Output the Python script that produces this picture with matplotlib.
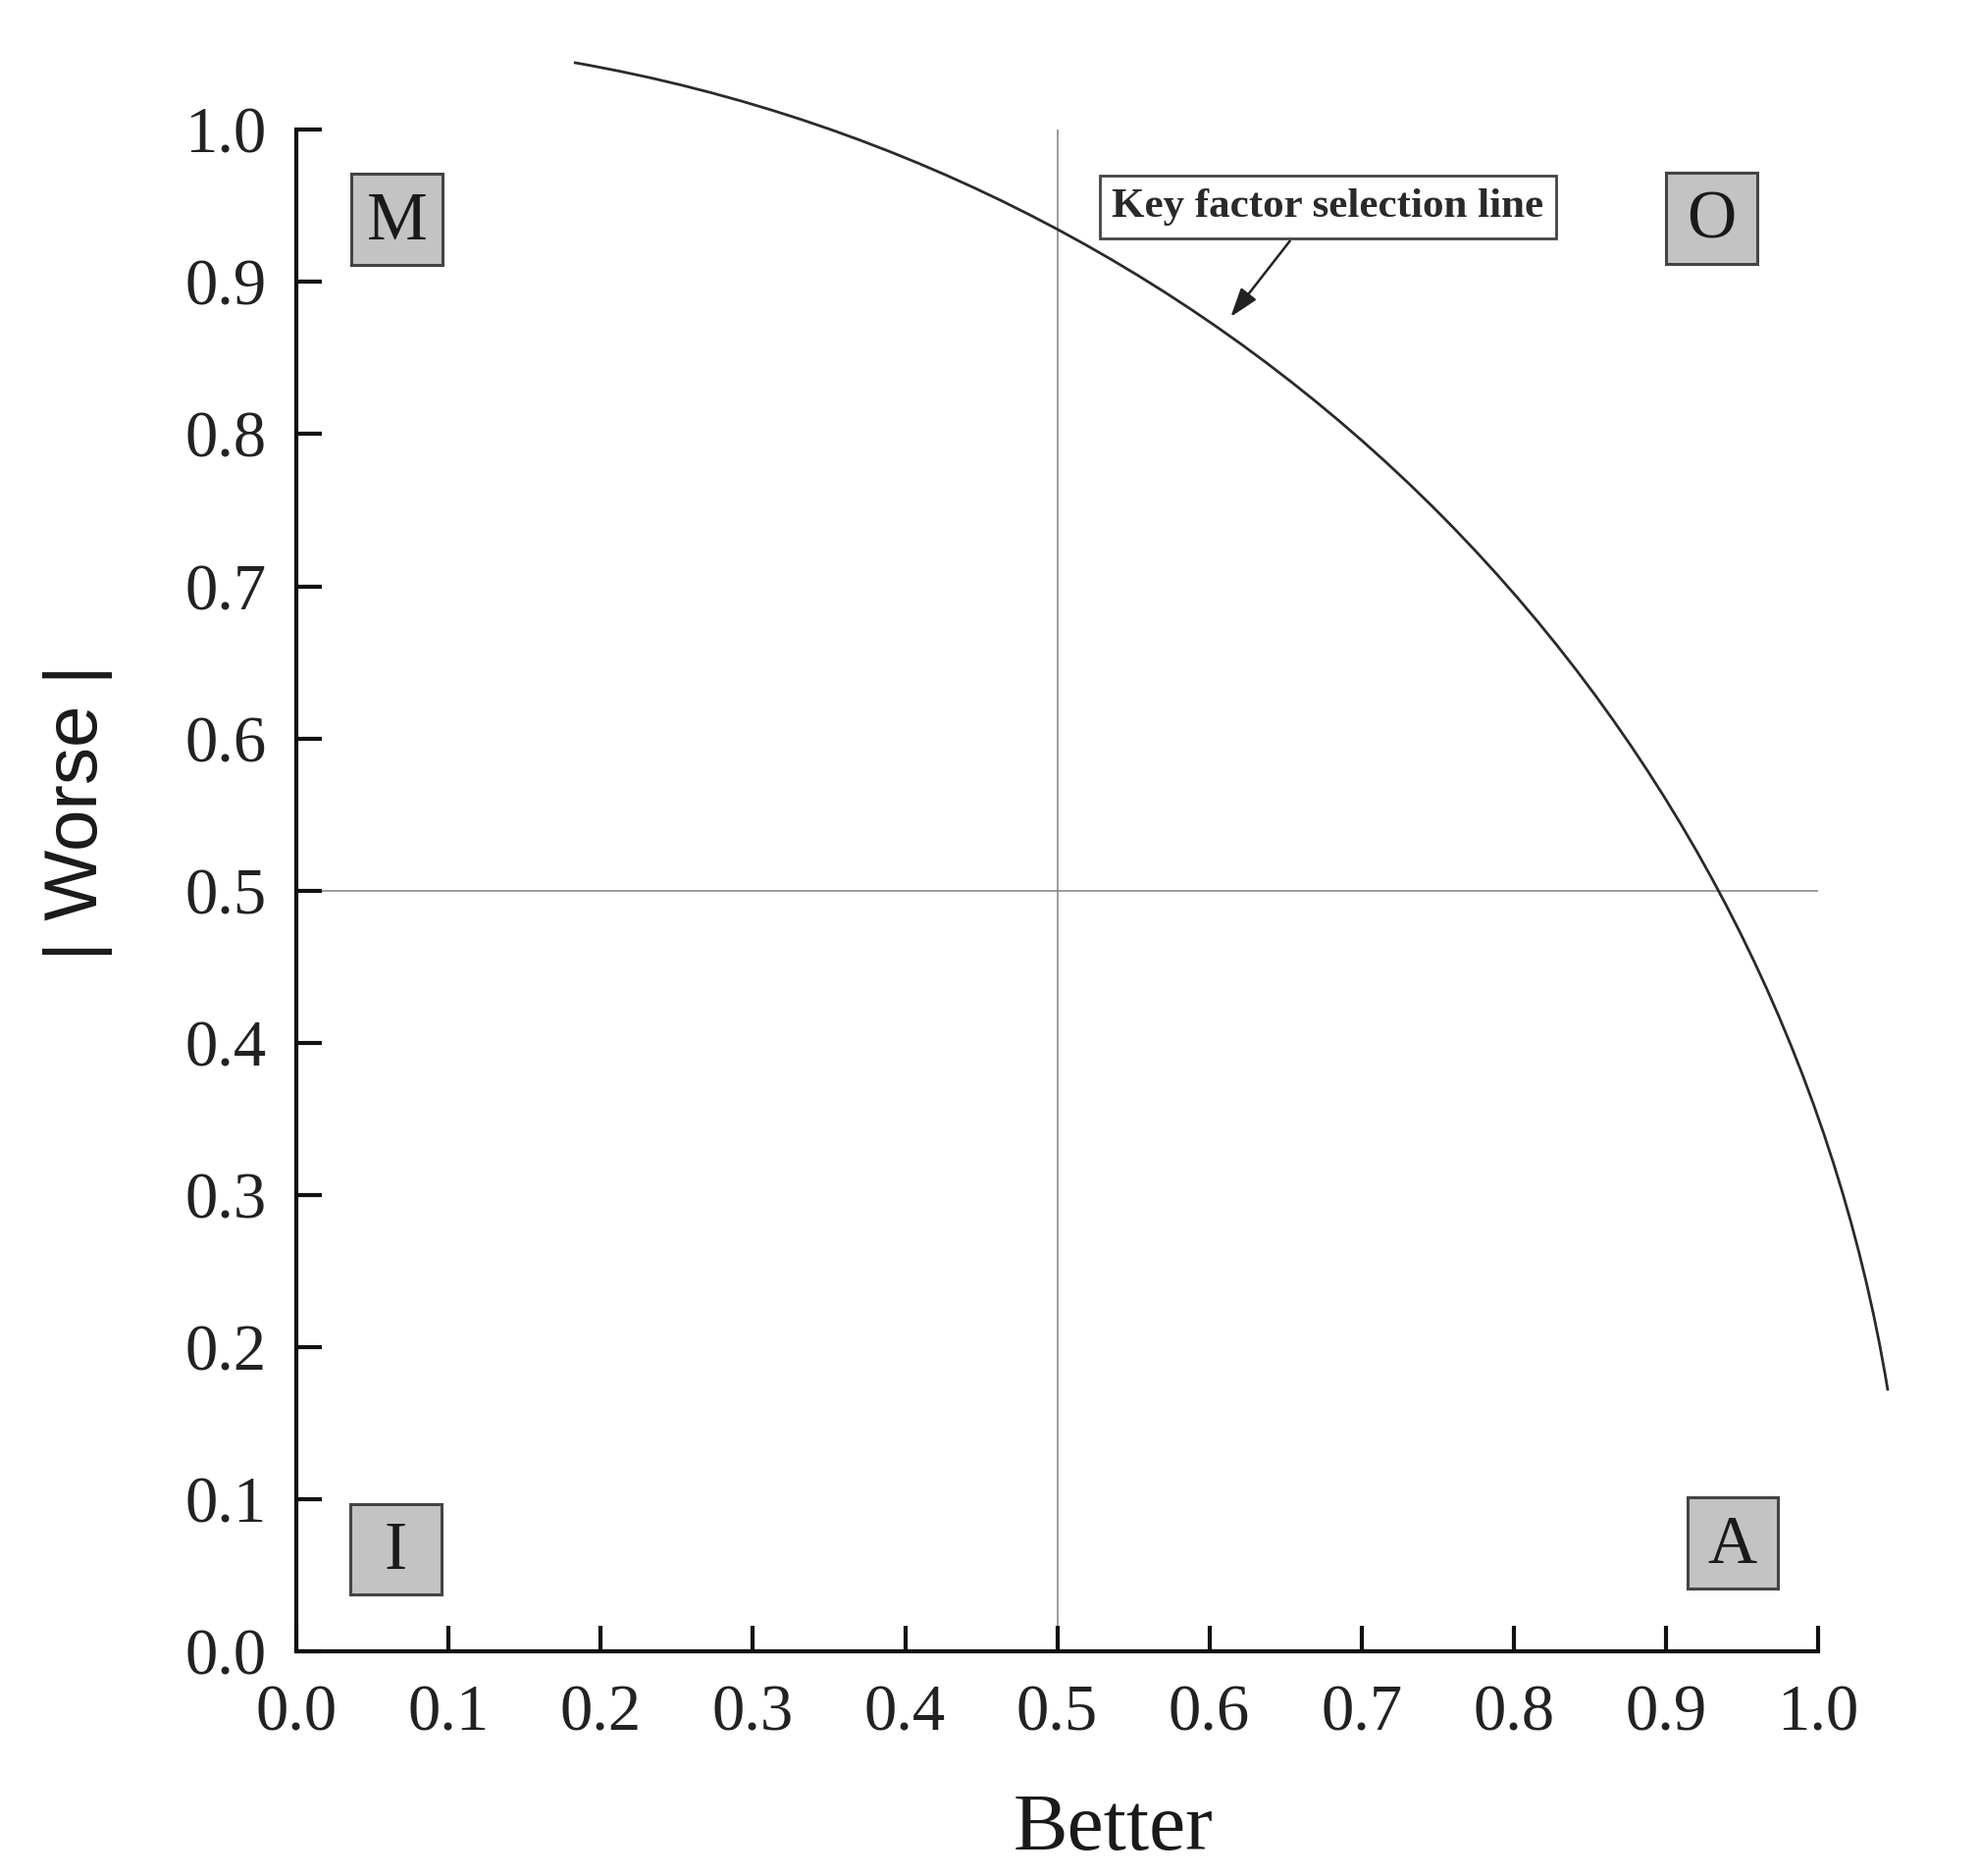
import matplotlib.pyplot as plt
from matplotlib.patches import Arc, Rectangle

# Valores
x_ticks = [0.0, 0.1, 0.2, 0.3, 0.4, 0.5, 0.6, 0.7, 0.8, 0.9, 1.0]
y_ticks = [0.0, 0.1, 0.2, 0.3, 0.4, 0.5, 0.6, 0.7, 0.8, 0.9, 1.0]
tick_labels = ["0.0", "0.1", "0.2", "0.3", "0.4", "0.5", "0.6", "0.7", "0.8", "0.9", "1.0"]

# Cuadrantes (letra, centro x, centro y)
quad_labels = ["M", "O", "I", "A"]
quad_x = [0.066, 0.930, 0.065, 0.944]
quad_y = [0.941, 0.942, 0.067, 0.071]
box_size = 0.0598

# Linea de seleccion de factores clave: arco centrado en el origen
arc_radius = 1.06
arc_theta_start = 9.3    # grados
arc_theta_end = 80.1

split_value = 0.5
note_text = "Key factor selection line"
note_xy = (0.678, 0.949)
arrow_tip = (0.614, 0.877)
arrow_tail = (0.653, 0.927)

plt.rcParams['font.family'] = ['Liberation Serif', 'DejaVu Serif']

fig = plt.figure(figsize=(20.16, 19.12), dpi=100)
ax = fig.add_axes([0.150, 0.1198, 0.769, 0.811])

ax.set_xlim(0, 1)
ax.set_ylim(0, 1)

# lineas divisorias
ax.plot([split_value, split_value], [0, 1], color='#8a8a8a', lw=1.2, zorder=1)
ax.plot([0, 1], [split_value, split_value], color='#8a8a8a', lw=1.2, zorder=1)

arc = Arc((0, 0), 2 * arc_radius, 2 * arc_radius, theta1=arc_theta_start,
          theta2=arc_theta_end, color='#2a2a2a', lw=2.0, clip_on=False, zorder=2)
ax.add_patch(arc)

for lab, qx, qy in zip(quad_labels, quad_x, quad_y):
    ax.add_patch(Rectangle((qx - box_size / 2, qy - box_size / 2), box_size, box_size,
                           facecolor='#c3c3c3', edgecolor='#444444', lw=2.2, zorder=3))
    ax.text(qx, qy - 0.002, lab, fontsize=50, ha='center', va='center',
            color='#1a1a1a', zorder=4)

ax.annotate("", xy=arrow_tip, xytext=arrow_tail,
            arrowprops=dict(arrowstyle='-|>,head_length=1.8,head_width=0.6',
                            color='#222222', lw=1.8, shrinkA=0, shrinkB=0))
ax.text(note_xy[0], note_xy[1], note_text, fontsize=31, fontweight='bold',
        ha='center', va='center', color='#2a2a2a',
        bbox=dict(boxstyle='square,pad=0.3', facecolor='white',
                  edgecolor='#444444', lw=2.0))

for side in ['top', 'right']:
    ax.spines[side].set_visible(False)
for side in ['left', 'bottom']:
    ax.spines[side].set_linewidth(3.0)
    ax.spines[side].set_color('#111111')

ax.set_xticks(x_ticks)
ax.set_xticklabels(tick_labels)
ax.set_yticks(y_ticks)
ax.set_yticklabels(tick_labels)
ax.tick_params(axis='x', direction='in', length=19, width=3.0, labelsize=48,
               pad=24, colors='#111111', labelcolor='#222222')
ax.tick_params(axis='y', direction='in', length=19, width=3.0, labelsize=48,
               pad=22, colors='#111111', labelcolor='#222222')

ax.set_xlabel("Better", fontsize=60, color='#1a1a1a')
ax.xaxis.set_label_coords(0.537, -0.093)
ax.set_ylabel("| Worse |", fontsize=55, family=['Liberation Sans', 'DejaVu Sans'],
              color='#1a1a1a')
ax.yaxis.set_label_coords(-0.121, 0.551)

fig.savefig("out.png", dpi=100)
